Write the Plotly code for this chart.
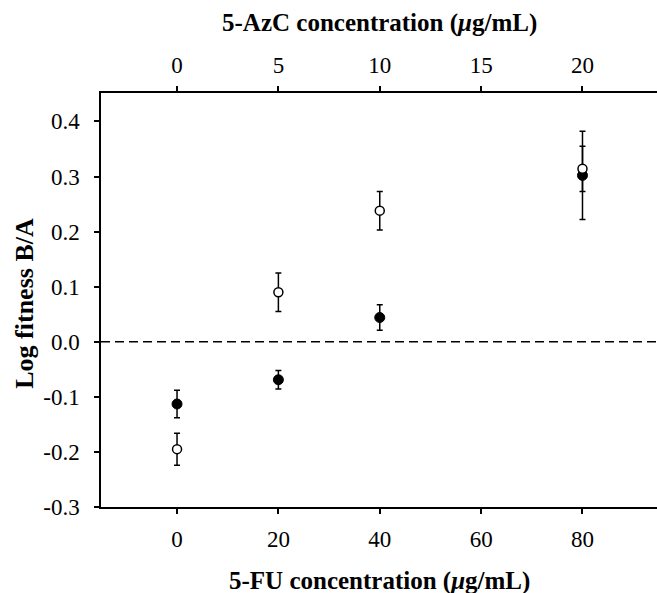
import plotly.graph_objects as go

# ---- data ----
fu_conc = [0, 20, 40, 80]                 # 5-FU concentration (µg/mL)
filled_vals = [-0.113, -0.069, 0.044, 0.302]
filled_err = [0.025, 0.017, 0.023, 0.080]
open_vals = [-0.195, 0.090, 0.238, 0.314]
open_err = [0.029, 0.035, 0.035, 0.041]
bottom_ticks = [0, 20, 40, 60, 80]
top_ticks = [0, 5, 10, 15, 20]            # 5-AzC concentration (µg/mL)
y_ticks = [-0.3, -0.2, -0.1, 0.0, 0.1, 0.2, 0.3, 0.4]
y_tick_text = ["-0.3", "-0.2", "-0.1", "0.0", "0.1", "0.2", "0.3", "0.4"]
ref_level = 0.0

x_range = [-15, 94.7]
ratio = 4.0  # 5-FU / 5-AzC
FONT = "Liberation Serif"

fig = go.Figure()
fig.add_trace(go.Scatter(
    x=fu_conc, y=filled_vals, mode="markers",
    marker=dict(symbol="circle", size=10, color="black", line=dict(color="black", width=1)),
    error_y=dict(type="data", array=filled_err, color="black", thickness=1.5, width=3),
    showlegend=False, cliponaxis=False))
fig.add_trace(go.Scatter(
    x=fu_conc, y=open_vals, mode="markers",
    marker=dict(symbol="circle", size=9, color="white", line=dict(color="black", width=1.5)),
    error_y=dict(type="data", array=open_err, color="black", thickness=1.5, width=3),
    showlegend=False, cliponaxis=False))
# invisible trace for top axis
fig.add_trace(go.Scatter(x=top_ticks, y=[None] * len(top_ticks), xaxis="x2",
                         mode="markers", showlegend=False, hoverinfo="skip"))

fig.add_shape(type="line", xref="paper", x0=0, x1=1, yref="y", y0=ref_level, y1=ref_level,
              line=dict(color="black", width=1.5, dash="9px,5px"))

axis_common = dict(showline=True, linecolor="black", linewidth=1.5, ticks="outside",
                   tickcolor="black", tickwidth=1.5, ticklen=5, showgrid=False, zeroline=False,
                   tickfont=dict(family=FONT, size=23, color="black"))

TITLE_FONT = dict(family=FONT, size=25, color="black")

fig.update_layout(
    width=657, height=593,
    margin=dict(l=101, r=0, t=93, b=86),
    paper_bgcolor="white", plot_bgcolor="white",
    font=dict(family=FONT, color="black"),
    xaxis=dict(range=x_range, tickvals=bottom_ticks, ticklabelstandoff=6, **axis_common),
    xaxis2=dict(range=[x_range[0] / ratio, x_range[1] / ratio], tickvals=top_ticks,
                overlaying="x", side="top", anchor="y", ticklabelstandoff=4, **axis_common),
    yaxis=dict(range=[-0.3, 0.4516], tickvals=y_ticks, ticktext=y_tick_text,
               ticklabelstandoff=10, **axis_common),
    annotations=[
        dict(text="<b>5-FU concentration (<i>μ</i>g/mL)</b>", xref="paper", yref="paper",
             x=0.5, y=-0.178, xanchor="center", yanchor="middle", showarrow=False,
             font=TITLE_FONT),
        dict(text="<b>5-AzC concentration (<i>μ</i>g/mL)</b>", xref="paper", yref="paper",
             x=0.5, y=1.168, xanchor="center", yanchor="middle", showarrow=False,
             font=TITLE_FONT),
        dict(text="<b>Log fitness B/A</b>", xref="paper", yref="paper",
             x=-0.137, y=0.493, xanchor="center", yanchor="middle", showarrow=False,
             textangle=-90, font=dict(family=FONT, size=26, color="black")),
    ],
)

fig.write_html("out.html")
